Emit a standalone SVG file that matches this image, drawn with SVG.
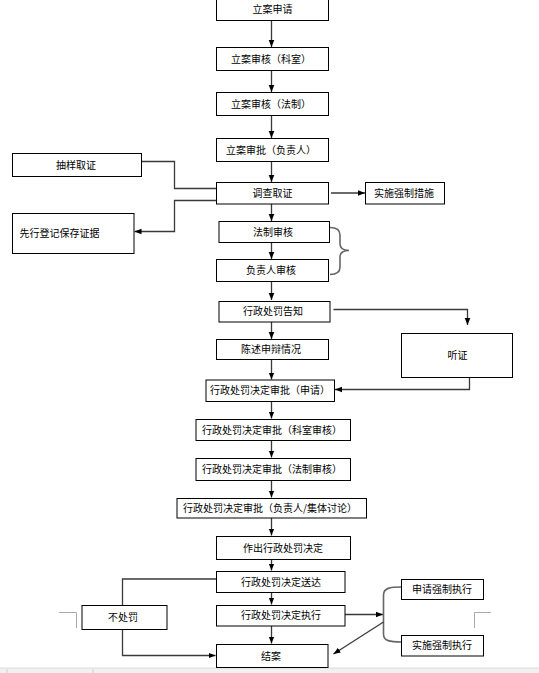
<svg xmlns="http://www.w3.org/2000/svg" width="539" height="673" viewBox="0 0 539 673">
<style>
.box{fill:#fff;stroke:#000;stroke-width:1}
.t{font-family:"Noto Sans CJK SC","Liberation Sans",sans-serif;font-size:10px;fill:#000;text-anchor:middle}
.tl{font-family:"Noto Sans CJK SC","Liberation Sans",sans-serif;font-size:10px;fill:#000;text-anchor:start}
.c{fill:none;stroke:#3a3a3a;stroke-width:1.3}
.a{fill:none;stroke:#3a3a3a;stroke-width:1.3;marker-end:url(#ah)}
.br{fill:none;stroke:#666;stroke-width:1.6}
.cm{fill:none;stroke:#aaa;stroke-width:1}
</style>
<defs>
<marker id="ah" viewBox="0 0 10 10" refX="10" refY="5" markerWidth="7" markerHeight="7" markerUnits="userSpaceOnUse" orient="auto">
<path d="M0,1 L10,5 L0,9 z" fill="#000"/>
</marker>
</defs>
<rect x="0" y="0" width="539" height="673" fill="#fff"/>
<g id="bottom-bar">
<rect x="0" y="668" width="539" height="5" fill="#f1f1f1"/>
<line x1="0" y1="668" x2="539" y2="668" stroke="#dcdcdc"/>
<line x1="7" y1="669" x2="7" y2="673" stroke="#d0d0d0"/>
<line x1="93" y1="669" x2="93" y2="673" stroke="#d0d0d0"/>
</g>
<g id="corner-marks">
<path class="cm" d="M59,612.5 H76.5 V628"/>
<path class="cm" d="M474.5,628 V612.5 H491"/>
</g>
<g id="connectors">
<path class="a" d="M271.5,20.5 V47"/>
<path class="a" d="M271.5,70.5 V92"/>
<path class="a" d="M271.5,115.5 V138"/>
<path class="a" d="M271.5,161.5 V182"/>
<path class="a" d="M271.5,204 V221"/>
<path class="a" d="M271.5,242.5 V259"/>
<path class="a" d="M271.5,281.5 V300"/>
<path class="a" d="M271.5,322 V339"/>
<path class="a" d="M271.5,359.5 V379.5"/>
<path class="a" d="M271.5,401.5 V418.5"/>
<path class="a" d="M271.5,440.5 V457.5"/>
<path class="a" d="M271.5,480.5 V497.5"/>
<path class="a" d="M271.5,518 V535.5"/>
<path class="a" d="M271.5,559.5 V570.5"/>
<path class="a" d="M271.5,592.5 V604.5"/>
<path class="a" d="M271.5,626 V643.5"/>
<path class="c" d="M141.5,161.5 H174.5 V188.5 H216.5"/>
<path class="a" d="M216.5,200.5 H174.5 V231.5 H134.5"/>
<path class="a" d="M331,193 H365"/>
<path class="br" d="M330,227.5 Q340,227.5 340,235 V244 Q340,250.5 349,250.5 Q340,250.5 340,257 V267 Q340,274.5 330,274.5"/>
<path class="a" d="M333.5,309.5 H467.5 V325"/>
<path class="a" d="M469.5,378 V389.5 H335"/>
<path class="c" d="M216.5,579 H122.5 V605.5"/>
<path class="a" d="M122.5,629.5 V655.5 H215.5"/>
<path class="a" d="M345,614.5 H383"/>
<path class="br" d="M401.5,587 C390,587 383.5,588 383.5,595 V634 C383.5,641 390,642 401.5,642"/>
<path class="a" d="M383.5,622 L333.5,654"/>
</g>
<g id="n1"><rect class="box" x="216.5" y="-1.5" width="112" height="22"/><text class="t" x="272.5" y="13">立案申请</text></g>
<g id="n2"><rect class="box" x="216.5" y="47.5" width="112" height="23"/><text class="t" x="271" y="62.5">立案审核（科室）</text></g>
<g id="n3"><rect class="box" x="216.5" y="92.5" width="112" height="23"/><text class="t" x="271" y="107.5">立案审核（法制）</text></g>
<g id="n4"><rect class="box" x="216.5" y="138.5" width="112" height="23"/><text class="t" x="271" y="153.5">立案审批（负责人）</text></g>
<g id="n5"><rect class="box" x="12.5" y="153.5" width="129" height="23"/><text class="t" x="76" y="168.5">抽样取证</text></g>
<g id="n6"><rect class="box" x="216.5" y="182.5" width="112" height="21.5"/><text class="t" x="272.5" y="196.8">调查取证</text></g>
<g id="n7"><rect class="box" x="365.5" y="182.5" width="79" height="21.5"/><text class="t" x="404" y="196.8">实施强制措施</text></g>
<g id="n8"><rect class="box" x="12.5" y="213.5" width="121.5" height="40"/><text class="tl" x="19.5" y="237">先行登记保存证据</text></g>
<g id="n9"><rect class="box" x="219" y="221.5" width="110.5" height="21"/><text class="t" x="273" y="235.5">法制审核</text></g>
<g id="n10"><rect class="box" x="216.5" y="259.5" width="112" height="22"/><text class="t" x="271" y="274">负责人审核</text></g>
<g id="n11"><rect class="box" x="219" y="301.5" width="111" height="20.5"/><text class="t" x="273" y="315.3">行政处罚告知</text></g>
<g id="n12"><rect class="box" x="216.5" y="339.5" width="112" height="20"/><text class="t" x="271" y="353">陈述申辩情况</text></g>
<g id="n13"><rect class="box" x="401.5" y="333.5" width="111" height="44"/><text class="t" x="457.5" y="359">听证</text></g>
<g id="n14"><rect class="box" x="206" y="380" width="128.5" height="21.5"/><text class="t" x="270" y="394.3">行政处罚决定审批（申请）</text></g>
<g id="n15"><rect class="box" x="196" y="419.5" width="154.5" height="21"/><text class="t" x="272" y="433.5">行政处罚决定审批（科室审核）</text></g>
<g id="n16"><rect class="box" x="196" y="458.5" width="154.5" height="22"/><text class="t" x="272" y="473">行政处罚决定审批（法制审核）</text></g>
<g id="n17"><rect class="box" x="177" y="498.5" width="189.5" height="19.5"/><text class="t" x="270" y="511.8">行政处罚决定审批（负责人/集体讨论）</text></g>
<g id="n18"><rect class="box" x="216.5" y="536.5" width="134" height="23"/><text class="t" x="283" y="551.5">作出行政处罚决定</text></g>
<g id="n19"><rect class="box" x="216.5" y="571.5" width="128.5" height="21"/><text class="t" x="281" y="585.5">行政处罚决定送达</text></g>
<g id="n20"><rect class="box" x="216.5" y="605.5" width="128.5" height="20.5"/><text class="t" x="281" y="619.3">行政处罚决定执行</text></g>
<g id="n21"><rect class="box" x="216.5" y="644.5" width="111.5" height="23"/><text class="t" x="271" y="659.5">结案</text></g>
<g id="n22"><rect class="box" x="82" y="605.5" width="85" height="24"/><text class="t" x="123" y="621">不处罚</text></g>
<g id="n23"><rect class="box" x="401.5" y="579.5" width="82" height="20"/><text class="t" x="442" y="593">申请强制执行</text></g>
<g id="n24"><rect class="box" x="401.5" y="635.5" width="82" height="20.5"/><text class="t" x="442" y="649.3">实施强制执行</text></g>
</svg>
